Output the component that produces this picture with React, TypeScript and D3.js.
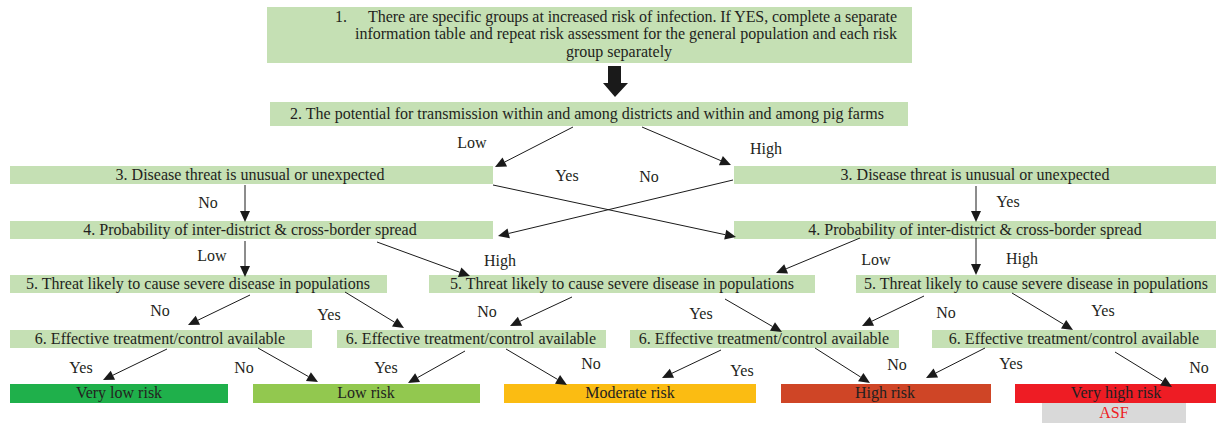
import React from "react";
import * as d3 from "d3";

// ---- Data (text content) ----
const question1Lines = [
  "There are specific groups at increased risk of infection. If YES, complete a separate",
  "information table and repeat risk assessment for the general population and each risk",
  "group separately",
];
const question2 = "2. The potential for transmission within and among districts and within and among pig farms";
const question3 = "3. Disease threat is unusual or unexpected";
const question4 = "4. Probability of inter-district & cross-border spread";
const question5 = "5. Threat likely to cause severe disease in populations";
const question6 = "6. Effective treatment/control available";
const riskLevels = ["Very low risk", "Low risk", "Moderate risk", "High risk", "Very high risk"];
const riskColors = ["#1fb04b", "#92c84f", "#fbbc12", "#cf4526", "#ee1c24"];
const asfLabel = "ASF";

// ---- Layout ----
type Box = { x: number; y: number; w: number; h: number; text: string; cx: number };
const boxH = 18;
const boxes: Box[] = [
  { x: 270, y: 102, w: 638, h: 24, text: question2, cx: 587 },
  { x: 10, y: 166, w: 483, h: boxH, text: question3, cx: 250 },
  { x: 734, y: 166, w: 482, h: boxH, text: question3, cx: 975 },
  { x: 10, y: 221, w: 483, h: boxH, text: question4, cx: 250 },
  { x: 734, y: 221, w: 482, h: boxH, text: question4, cx: 975 },
  { x: 10, y: 275, w: 377, h: boxH, text: question5, cx: 198 },
  { x: 429, y: 275, w: 386, h: boxH, text: question5, cx: 622 },
  { x: 856, y: 275, w: 360, h: boxH, text: question5, cx: 1036 },
  { x: 10, y: 330, w: 302, h: boxH, text: question6, cx: 160 },
  { x: 337, y: 330, w: 269, h: boxH, text: question6, cx: 471 },
  { x: 630, y: 330, w: 269, h: boxH, text: question6, cx: 764 },
  { x: 932, y: 330, w: 284, h: boxH, text: question6, cx: 1074 },
];
const riskBoxes = [
  { x: 10, w: 218, cx: 119 },
  { x: 253, w: 227, cx: 366 },
  { x: 504, w: 252, cx: 630 },
  { x: 781, w: 210, cx: 885 },
  { x: 1015, w: 201, cx: 1116 },
];
const riskY = 384;
const riskH = 19;

const branchText = ["Low", "High", "Yes", "No"];
// [x1, y1, x2, y2]
const arrows: [number, number, number, number][] = [
  [573, 127, 495, 167],
  [642, 127, 731, 165],
  [493, 185, 736, 237],
  [733, 180, 498, 236],
  [245, 185, 245, 222],
  [976, 186, 976, 222],
  [245, 241, 245, 277],
  [377, 242, 470, 276],
  [860, 238, 776, 273],
  [976, 238, 976, 275],
  [250, 295, 188, 325],
  [345, 292, 404, 328],
  [572, 297, 510, 326],
  [725, 299, 782, 332],
  [924, 296, 862, 326],
  [1012, 293, 1073, 330],
  [167, 349, 103, 380],
  [258, 348, 318, 382],
  [465, 351, 408, 383],
  [506, 349, 567, 385],
  [721, 350, 662, 378],
  [815, 348, 870, 383],
  [985, 348, 926, 378],
  [1115, 352, 1172, 387],
];
// [textIndex, x, y]
const labels: [number, number, number][] = [
  [0, 472, 143], [1, 766, 149],
  [2, 567, 176], [3, 649, 177],
  [3, 208, 203], [2, 1008, 202],
  [0, 212, 256], [1, 500, 261], [0, 876, 260], [1, 1022, 259],
  [3, 160, 311], [2, 329, 315], [3, 487, 312], [2, 701, 314], [3, 946, 313], [2, 1103, 311],
  [2, 81, 368], [3, 244, 368], [2, 386, 368], [3, 591, 364], [2, 742, 371], [3, 897, 365], [2, 1011, 364], [3, 1199, 368],
];

const boxFill = "#c5e0b4";
const textColor = "#231f20";
const font = "Liberation Serif, DejaVu Serif, serif";
const fs = 16;

const line = d3.line();

function Arrow({ a }: { a: [number, number, number, number] }) {
  const [x1, y1, x2, y2] = a;
  const ang = Math.atan2(y2 - y1, x2 - x1);
  const L = 11, W = 5;
  const bx = x2 - L * Math.cos(ang), by = y2 - L * Math.sin(ang);
  const px = -Math.sin(ang) * W, py = Math.cos(ang) * W;
  const head = line([[x2, y2], [bx + px, by + py], [bx - px, by - py]]) + "Z";
  return (
    <g>
      <path d={line([[x1, y1], [bx, by]]) as string} stroke="#1a1a1a" strokeWidth={1} fill="none" />
      <path d={head} fill="#1a1a1a" />
    </g>
  );
}

const T = (p: any) => <text fill={textColor} style={{ fontFamily: font, fontSize: fs }} {...p} />;

export default function App() {
  return (
    <svg width={1216} height={423} style={{ position: "absolute", left: 0, top: 0, background: "#fff" }}>
      {/* Box 1 */}
      <rect x={267} y={7} width={645} height={56} fill={boxFill} />
      <T x={335} y={22}>1.</T>
      <T x={368} y={22} textLength={529} lengthAdjust="spacing">{question1Lines[0]}</T>
      <T x={355} y={39} textLength={542} lengthAdjust="spacing">{question1Lines[1]}</T>
      <T x={619} y={57} textAnchor="middle">{question1Lines[2]}</T>
      {/* thick arrow */}
      <path d={line([[608, 66], [621, 66], [621, 83], [628, 83], [615, 97], [603, 83], [608, 83]]) + "Z"} fill="#1a1a1a" />
      {boxes.map((b, i) => (
        <g key={i}>
          <rect x={b.x} y={b.y} width={b.w} height={b.h} fill={boxFill} />
          <T x={b.cx} y={b.y + b.h / 2 + 4.8} textAnchor="middle">{b.text}</T>
        </g>
      ))}
      {riskBoxes.map((r, i) => (
        <g key={i}>
          <rect x={r.x} y={riskY} width={r.w} height={riskH} fill={riskColors[i]} />
          <T x={r.cx} y={riskY + 13.5} textAnchor="middle">{riskLevels[i]}</T>
        </g>
      ))}
      <rect x={1042} y={403} width={144} height={20} fill="#d9d9d9" />
      <T x={1114} y={418} textAnchor="middle" fill="#ee1c24">{asfLabel}</T>
      {arrows.map((a, i) => <Arrow key={i} a={a} />)}
      {labels.map(([t, x, y], i) => (
        <T key={i} x={x} y={y + 5} textAnchor="middle">{branchText[t]}</T>
      ))}
    </svg>
  );
}
